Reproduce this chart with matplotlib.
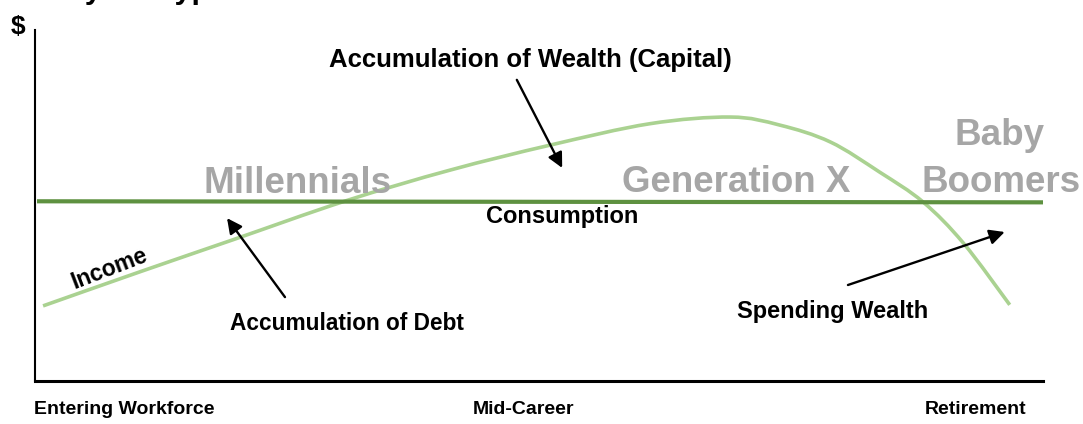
import matplotlib
matplotlib.use("Agg")
import matplotlib.pyplot as plt
from matplotlib.path import Path
from matplotlib.patches import PathPatch

plt.rcParams['font.family'] = ['Liberation Sans', 'DejaVu Sans']

# ---- data (arbitrary $ units, x = career progress 0-100) ----
income_x = [0.8, 10.4, 19.6, 30.8, 41.2, 51.1, 61.0, 69.0, 73.9, 78.9, 83.8, 88.1, 92.1, 96.7]
income_y = [21.4, 31.1, 40.2, 51.3, 60.1, 67.2, 73.3, 75.2, 72.9, 68.1, 59.5, 51.0, 39.3, 21.7]
consumption_x = [0.2, 100.0]
consumption_y = [51.2, 50.9]
generations = ["Millennials", "Generation X", "Baby", "Boomers"]
stage_labels = ["Entering Workforce", "Mid-Career", "Retirement"]

GREEN_DARK = "#5e9140"
GREEN_LIGHT = "#aad291"
GRAY = "#a6a6a6"

fig = plt.figure(figsize=(10.83, 4.24), dpi=100)
ax = fig.add_axes([35/1083, 43/424, 1008/1083, 351/424])
ax.set_xlim(0, 100)
ax.set_ylim(0, 100)
for s in ("top", "right"):
    ax.spines[s].set_visible(False)
ax.spines["left"].set_linewidth(1.5)
ax.spines["bottom"].set_linewidth(2.2)
ax.set_xticks([])
ax.set_yticks([])

ax.plot(consumption_x, consumption_y, color=GREEN_DARK, lw=3, solid_capstyle="butt")

# income drawn as a smooth path through the read points (Catmull-Rom style Bezier)
pts = list(zip(income_x, income_y))
verts = [pts[0]]
codes = [Path.MOVETO]
n = len(pts)
for i in range(n - 1):
    p0 = pts[i - 1] if i > 0 else pts[i]
    p1 = pts[i]
    p2 = pts[i + 1]
    p3 = pts[i + 2] if i + 2 < n else pts[i + 1]
    c1 = (p1[0] + (p2[0] - p0[0]) / 6, p1[1] + (p2[1] - p0[1]) / 6)
    c2 = (p2[0] - (p3[0] - p1[0]) / 6, p2[1] - (p3[1] - p1[1]) / 6)
    verts += [c1, c2, p2]
    codes += [Path.CURVE4, Path.CURVE4, Path.CURVE4]
ax.add_patch(PathPatch(Path(verts, codes), facecolor="none", edgecolor=GREEN_LIGHT, lw=2.6,
                       capstyle="butt", joinstyle="round"))

# generation labels
gfs = 26.5
ax.text(26.0, 53.6, generations[0], ha="center", va="baseline", fontsize=gfs, fontweight="bold", color=GRAY)
ax.text(69.6, 53.8, generations[1], ha="center", va="baseline", fontsize=gfs, fontweight="bold", color=GRAY)
ax.text(95.7, 67.2, generations[2], ha="center", va="baseline", fontsize=gfs, fontweight="bold", color=GRAY, clip_on=False)
ax.text(95.8, 53.8, generations[3], ha="center", va="baseline", fontsize=gfs, fontweight="bold", color=GRAY, clip_on=False)

lfs = 17
ax.text(49.1, 91.5, "Accumulation of Wealth (Capital)", ha="center", va="center", fontsize=18.5, fontweight="bold")
ax.text(52.3, 47.0, "Consumption", ha="center", va="center", fontsize=lfs, fontweight="bold")
ax.text(7.4, 32.0, "Income", ha="center", va="center", fontsize=16.5, fontweight="bold", rotation=21,
        rotation_mode="anchor")
ax.text(30.9, 16.5, "Accumulation of Debt", ha="center", va="center", fontsize=16.3, fontweight="bold")
ax.text(79.1, 19.9, "Spending Wealth", ha="center", va="center", fontsize=lfs, fontweight="bold")

ap = dict(arrowstyle="-|>,head_length=0.9,head_width=0.45", color="black", lw=1.7, shrinkA=0, shrinkB=0)
ax.annotate("", xy=(52.3, 60.7), xytext=(47.8, 85.8), arrowprops=ap)
ax.annotate("", xy=(19.05, 46.4), xytext=(24.8, 23.9), arrowprops=ap)
ax.annotate("", xy=(96.2, 42.45), xytext=(80.65, 27.35), arrowprops=ap)

# axis labels
fig.text(124/1083, 1 - 410/424, stage_labels[0], ha="center", va="center", fontsize=14, fontweight="bold")
fig.text(524/1083, 1 - 410/424, stage_labels[1], ha="center", va="center", fontsize=14, fontweight="bold")
fig.text(976/1083, 1 - 410/424, stage_labels[2], ha="center", va="center", fontsize=14, fontweight="bold")

fig.text(18/1083, 1 - 27/424, "$", ha="center", va="center", fontsize=19, fontweight="bold")
fig.text(0/1083, 1 + 2/424, "Life Cycle Hypothesis", ha="left", va="baseline", fontsize=22, fontweight="bold")

fig.savefig("out.png", dpi=100)
